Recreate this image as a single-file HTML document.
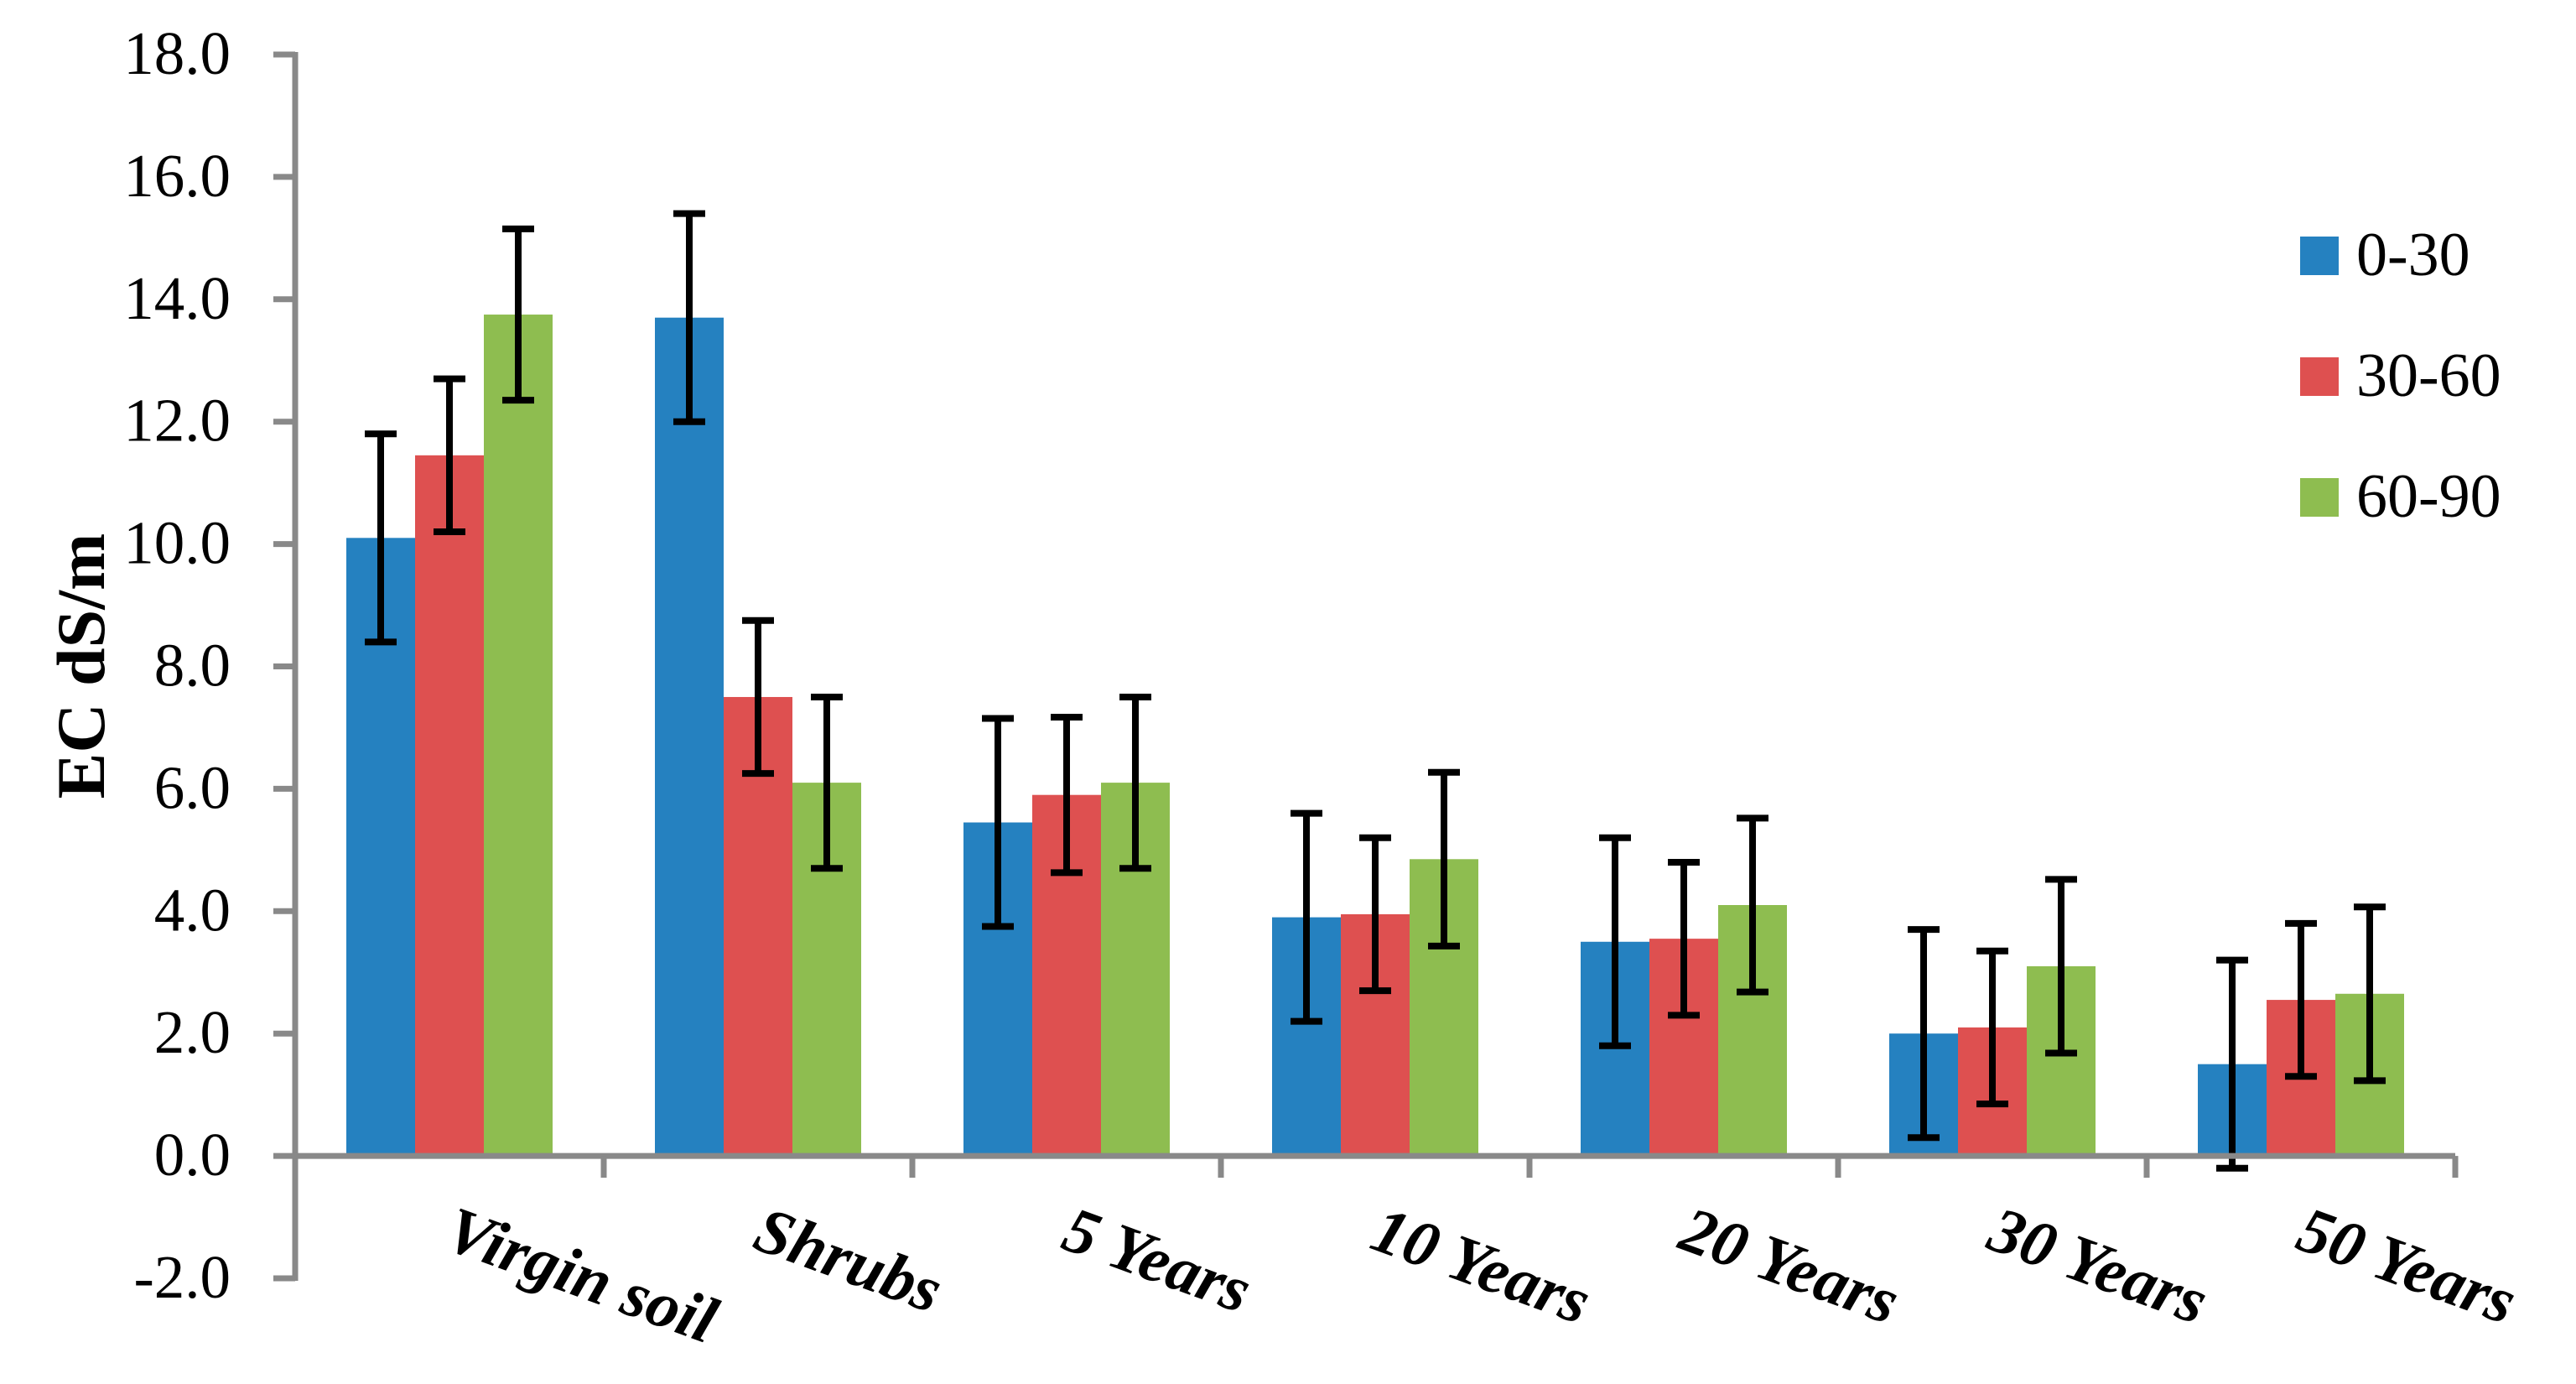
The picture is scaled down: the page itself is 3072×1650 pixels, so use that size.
<!DOCTYPE html>
<html><head><meta charset="utf-8">
<style>
html,body{margin:0;padding:0;background:#fff;}
svg{display:block;}
svg text{font-family:"Liberation Serif","Times New Roman",serif;}
</style></head>
<body>
<svg id="chart" width="3072" height="1650" viewBox="0 0 3072 1650" xmlns="http://www.w3.org/2000/svg">
  <g id="bars"></g>
  <g id="errs"></g>
  <g id="axes"></g>
  <text x="0" y="0" transform="translate(124,794) rotate(-90)" text-anchor="middle" font-weight="bold" font-size="82">EC dS/m</text>
  <g id="legend"></g>
</svg>
<script>
const categories = ["Virgin soil","Shrubs","5 Years","10 Years","20 Years","30 Years","50 Years"];
const seriesNames = ["0-30","30-60","60-90"];
const values0_30 = [10.1, 13.7, 5.45, 3.9, 3.5, 2.0, 1.5];
const values30_60 = [11.45, 7.5, 5.9, 3.95, 3.55, 2.1, 2.55];
const values60_90 = [13.75, 6.1, 6.1, 4.85, 4.1, 3.1, 2.65];
const err0_30 = [1.7, 1.7, 1.7, 1.7, 1.7, 1.7, 1.7];
const err30_60 = [1.25, 1.25, 1.27, 1.25, 1.25, 1.25, 1.25];
const err60_90 = [1.4, 1.4, 1.4, 1.42, 1.42, 1.42, 1.42];
const yTicks = ["-2.0","0.0","2.0","4.0","6.0","8.0","10.0","12.0","14.0","16.0","18.0"];

const NS="http://www.w3.org/2000/svg";
const colors=["#2581c0","#de5050","#8ebd50"];
const X0=352, CW=368, YMIN=-2, YMAX=18, YTOP=65, YBOT=1524;
function yS(v){return YBOT-(v-YMIN)/(YMAX-YMIN)*(YBOT-YTOP);}
function xCat(i){return X0+i*CW;}
function mk(tag,attrs,parent){const e=document.createElementNS(NS,tag);for(const k in attrs)e.setAttribute(k,attrs[k]);parent.appendChild(e);return e;}
const bars=document.getElementById('bars'), errs=document.getElementById('errs'), axes=document.getElementById('axes'), legend=document.getElementById('legend');
const allV=[values0_30,values30_60,values60_90], allE=[err0_30,err30_60,err60_90];
const BW=82, OFF=61;
for(let s=0;s<3;s++){
  for(let i=0;i<categories.length;i++){
    const v=allV[s][i], e=allE[s][i];
    const x=xCat(i)+OFF+s*BW;
    const y0=yS(0), y1=yS(v);
    const r=mk('rect',{x:x,y:Math.min(y0,y1),width:BW,height:Math.abs(y0-y1),fill:colors[s]},bars);
    
    
    const cx=x+BW/2, yt=yS(v+e), yb=yS(v-e);
    const g=mk('g',{stroke:'#000','stroke-width':8},errs);
    
    
    mk('line',{x1:cx,x2:cx,y1:yt,y2:yb},g);
    mk('line',{x1:cx-19,x2:cx+19,y1:yt,y2:yt},g);
    mk('line',{x1:cx-19,x2:cx+19,y1:yb,y2:yb},g);
  }
}
const ax=mk('g',{stroke:'#898989','stroke-width':7,fill:'none'},axes);
const yAxisLine=mk('line',{x1:X0,x2:X0,y1:YTOP-3,y2:YBOT+3},ax);


const xAxisLine=mk('line',{x1:X0,x2:xCat(categories.length),y1:yS(0),y2:yS(0)},ax);


yTicks.forEach(t=>{
  const y=yS(parseFloat(t));
  mk('line',{x1:X0-26,x2:X0,y1:y,y2:y},ax);
  const tx=mk('text',{x:275,y:y+23,'text-anchor':'end','font-size':73,fill:'#000',stroke:'none'},axes);
  tx.textContent=t;
  
  
});
for(let i=1;i<=categories.length;i++){
  const x=xCat(i);
  mk('line',{x1:x,x2:x,y1:yS(0),y2:yS(0)+26},ax);
}
categories.forEach((c,i)=>{
  const cx=xCat(i)+CW/2-9, cy=1487;
  const t=mk('text',{x:0,y:0,transform:'translate('+cx+','+cy+') rotate(20)','font-weight':'bold','font-style':'italic','font-size':78,fill:'#000'},axes);
  t.textContent=c;
  
  
});
seriesNames.forEach((n,s)=>{
  const y=282+s*144;
  const g=mk('g',{},legend);
  
  
  mk('rect',{x:2743,y:y,width:46,height:46,fill:colors[s]},g);
  const t=mk('text',{x:2810,y:y+46,'font-size':74,fill:'#000'},g);
  t.textContent=n;
});
</script>
</body></html>
